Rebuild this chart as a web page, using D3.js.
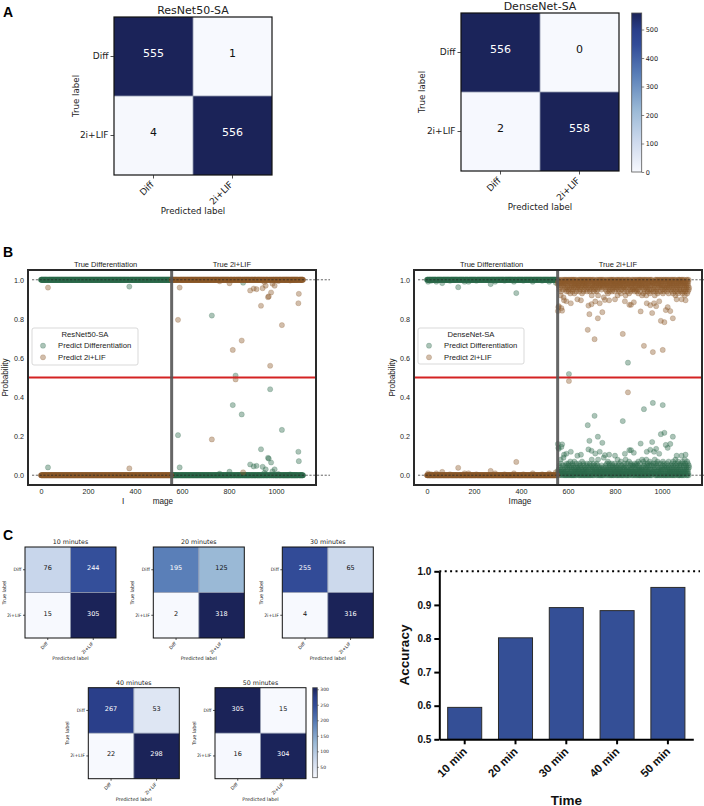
<!DOCTYPE html>
<html><head><meta charset="utf-8">
<script src="https://cdn.jsdelivr.net/npm/d3@7"></script>
<style>body{margin:0;background:#fff}</style>
</head><body>
<svg id="c" width="704" height="806"></svg>
<script>
// ================= DATA =================
const classLabels = ["Diff", "2i+LIF"];
const cmResNet = [[555, 1], [4, 556]];
const cmDenseNet = [[556, 0], [2, 558]];
const cbTicksA = [0, 100, 200, 300, 400, 500];

const nDiff = 556, nLIF = 560;           // images 0..555 true Diff, 556..1115 true 2i+LIF
const probTicks = [0, 0.2, 0.4, 0.6, 0.8, 1.0];
const imageTicks = [0, 200, 400, 600, 800, 1000];
const legendEntries = ["Predict Differentiation", "Predict 2i+LIF"];

// ResNet50-SA: P(Differentiation) for images off the 1.0 / 0.0 bands  [image, p]
const resnetOutliers = [[30,0.04],[376,0.965],
  [583,0.205],[590,0.04],[727,0.817],[760,0.008],[802,0.018],[816,0.359],[828,0.51],[854,0.311],
  [860,0.985],[890,0.055],[905,0.045],[917,0.048],[936,0.133],[943,0.043],[950,0.012],[956,0.03],
  [966,0.089],[969,0.085],[975,0.44],[979,0.065],[985,0.02],[994,0.03],[1010,0.006],[1025,0.232],
  [1060,0.004],[1095,0.12],[1097,0.072]];

// DenseNet-SA: P(Differentiation), true-2i+LIF band read in hundredths (one digit per image 556..1115)
const densenetLifBand = [
  "2410370152041826030412501937021402510364",
  "0231506120413072150240361025014702310426",
  "1024013520316024051230147021306251024013",
  "3051260214073102560134021850312041603125",
  "0142036102518024130620413025106230419021",
  "2013504126023170413260251034102605213041",
  "0316024105230418023501620314270152031604",
  "1402630518024103620512407130251603140252",
  "0251304162035120461302571024036105230418",
  "3024170352061302480153260412035170263015",
  "1043206125034810260315024702613051402368",
  "0214035271063024150382014603125074102315",
  "2051406230175204130628015302416073012504",
  "0316250413072601524038160253041702631054"];
// DenseNet-SA: P(Differentiation) for scattered images  [image, p]
const densenetOutliers = [[5,0.99],[18,0.995],[40,0.99],[65,0.983],[98,0.995],[133,0.962],[160,0.99],
  [177,0.99],[210,0.995],[271,0.978],[290,0.99],[330,0.995],[370,0.99],[380,0.932],[410,0.995],
  [450,0.99],[490,0.995],[520,0.99],[548,0.985],
  [557,0.16],[559,0.14],[561,0.135],[572,0.145],[575,0.158],[583,0.105],[593,0.11],[604,0.518],
  [612,0.12],[640,0.1],[655,0.105],[684,0.256],[687,0.132],[691,0.176],[700,0.125],[713,0.304],
  [716,0.111],[727,0.197],[735,0.12],[746,0.166],[757,0.103],[775,0.105],[800,0.1],[833,0.277],
  [842,0.11],[855,0.576],[861,0.128],[868,0.128],[880,0.115],[909,0.162],[923,0.338],[935,0.12],
  [950,0.13],[958,0.17],[961,0.37],[966,0.12],[975,0.135],[988,0.11],[995,0.21],[1003,0.359],
  [1010,0.217],[1016,0.155],[1024,0.14],[1035,0.16],[1046,0.197],[1062,0.1],[1083,0.1],[1100,0.105]];

const timeTitles = ["10 minutes", "20 minutes", "30 minutes", "40 minutes", "50 minutes"];
const timeMatrices = [
  [[76, 244], [15, 305]],
  [[195, 125], [2, 318]],
  [[255, 65], [4, 316]],
  [[267, 53], [22, 298]],
  [[305, 15], [16, 304]]];
const cbTicksC = [50, 100, 150, 200, 250, 300];

const timeLabels = ["10 min", "20 min", "30 min", "40 min", "50 min"];
const accuracy = [0.595, 0.802, 0.892, 0.883, 0.952];
const accTicks = [0.5, 0.6, 0.7, 0.8, 0.9, 1.0];

// ================= SETUP =================
const svg = d3.select("#c");
const defs = svg.append("defs");
const FDV = "'DejaVu Sans', sans-serif";
const FAR = "'Liberation Sans', Arial, sans-serif";
const GREEN = "#2d6a4a", BROWN = "#8b5a2b";

const cmapStops = [0, 0.11, 0.2, 0.39, 0.61, 0.8, 0.89, 1];
const cmap = d3.scaleLinear().domain(cmapStops)
  .range(["#f7f9fe","#dfe6f3","#cbd8ec","#9ab9d6","#5a7fb8","#324c98","#2a3f8a","#1b2358"])
  .interpolate(d3.interpolateRgb).clamp(true);

// panel letters
[["A", 3, 17], ["B", 3, 257], ["C", 3, 540]].forEach(([t, x, y]) =>
  svg.append("text").attr("x", x).attr("y", y).attr("font-family", FAR).attr("font-weight", "bold")
    .attr("font-size", 14).text(t));

// ================= CONFUSION MATRIX =================
function drawCM(o) {
  const g = svg.append("g").attr("transform", `translate(${o.x},${o.y})`);
  const sc = d3.scaleBand().domain(classLabels).range([0, o.size]);
  const flat = o.vals.flat();
  const vmin = d3.min(flat), vmax = d3.max(flat);
  const norm = d3.scaleLinear().domain([vmin, vmax]).range([0, 1]);
  const cells = [];
  o.vals.forEach((row, r) => row.forEach((v, c) => cells.push({ r: classLabels[r], c: classLabels[c], v })));
  const bw = sc.bandwidth();
  g.selectAll("rect.cell").data(cells).join("rect").attr("class", "cell")
    .attr("x", d => sc(d.c)).attr("y", d => sc(d.r)).attr("width", bw).attr("height", bw)
    .attr("fill", d => cmap(norm(d.v)));
  g.append("line").attr("x1", sc(classLabels[1])).attr("x2", sc(classLabels[1])).attr("y1", 0).attr("y2", o.size)
    .attr("stroke", "#8f98ad").attr("stroke-width", 0.8);
  g.append("line").attr("y1", sc(classLabels[1])).attr("y2", sc(classLabels[1])).attr("x1", 0).attr("x2", o.size)
    .attr("stroke", "#8f98ad").attr("stroke-width", 0.8);
  g.selectAll("text.val").data(cells).join("text").attr("class", "val")
    .attr("x", d => sc(d.c) + bw / 2).attr("y", d => sc(d.r) + bw / 2 + 0.5)
    .attr("text-anchor", "middle").attr("font-family", FDV).attr("font-size", o.fsCell)
    .attr("fill", d => d.v > vmax / 2 ? "#ffffff" : "#111111").text(d => d.v);
  g.append("rect").attr("width", o.size).attr("height", o.size).attr("fill", "none")
    .attr("stroke", "#111").attr("stroke-width", o.frame);
  const ya = g.append("g").call(d3.axisLeft(sc).tickSize(o.tick).tickPadding(o.pad));
  ya.select(".domain").remove();
  ya.selectAll("line").attr("stroke", "#222").attr("stroke-width", 0.8);
  ya.selectAll("text").attr("font-size", o.fsTick).attr("font-family", FDV).attr("fill", "#222");
  const xa = g.append("g").attr("transform", `translate(0,${o.size})`)
    .call(d3.axisBottom(sc).tickSize(o.tick).tickPadding(o.pad));
  xa.select(".domain").remove();
  xa.selectAll("line").attr("stroke", "#222").attr("stroke-width", 0.8);
  xa.selectAll("text").attr("font-size", o.fsTick).attr("font-family", FDV).attr("fill", "#222")
    .attr("x", 0).attr("y", 0).attr("dy", 0).attr("text-anchor", "end")
    .attr("transform", `translate(${o.xlOff[0]},${o.xlOff[1]}) rotate(-45)`);
  g.append("text").attr("x", o.size / 2).attr("y", -o.titleGap).attr("text-anchor", "middle")
    .attr("font-family", FDV).attr("font-size", o.fsTitle).attr("fill", "#222").text(o.title);
  g.append("text").attr("transform", `translate(${o.tlx - o.x},${o.size / 2}) rotate(-90)`)
    .attr("text-anchor", "middle").attr("font-family", FDV).attr("font-size", o.fsLabel).attr("fill", "#222")
    .text("True label");
  g.append("text").attr("x", o.size / 2).attr("y", o.ply - o.y).attr("text-anchor", "middle")
    .attr("font-family", FDV).attr("font-size", o.fsLabel).attr("fill", "#222").text("Predicted label");
}

let gradCount = 0;
function drawColorbar(x, y, w, h, vmin, vmax, ticks, fs, tk) {
  const id = "cbg" + (gradCount++);
  const lg = defs.append("linearGradient").attr("id", id).attr("x1", 0).attr("y1", 1).attr("x2", 0).attr("y2", 0);
  cmapStops.forEach(t => lg.append("stop").attr("offset", t).attr("stop-color", cmap(t)));
  const s = d3.scaleLinear().domain([vmin, vmax]).range([y + h, y]);
  svg.append("rect").attr("x", x).attr("y", y).attr("width", w).attr("height", h)
    .attr("fill", `url(#${id})`).attr("stroke", "#555").attr("stroke-width", 0.8);
  const a = svg.append("g").attr("transform", `translate(${x + w},0)`)
    .call(d3.axisRight(s).tickValues(ticks).tickSize(tk).tickPadding(1.5).tickSizeOuter(0));
  a.select(".domain").remove();
  a.selectAll("line").attr("stroke", "#333").attr("stroke-width", 0.6);
  a.selectAll("text").attr("font-family", FDV).attr("font-size", fs).attr("fill", "#222");
}

const optA = { size: 158, fsTitle: 11, fsCell: 11, fsTick: 9, fsLabel: 8.7, tick: 3.5, pad: 2, frame: 1.2, titleGap: 3, xlOff: [1, 10] };
drawCM(Object.assign({}, optA, { x: 114, y: 17, vals: cmResNet, title: "ResNet50-SA", tlx: 79, ply: 214 }));
drawCM(Object.assign({}, optA, { x: 461, y: 13, vals: cmDenseNet, title: "DenseNet-SA", tlx: 425, ply: 210 }));
drawColorbar(631.7, 13, 10, 159, 0, 558, cbTicksA, 6.5, 2.5);

const optC = { size: 91, fsTitle: 6.3, fsCell: 6.5, fsTick: 4.6, fsLabel: 4.9, tick: 2, pad: 1.5, frame: 1, titleGap: 3, xlOff: [0.5, 6] };
const posC = [[25, 547], [153.3, 547], [282.3, 547], [88.3, 687.7], [215, 687.7]];
timeMatrices.forEach((m, k) => {
  const [x, y] = posC[k];
  drawCM(Object.assign({}, optC, { x, y, vals: m, title: timeTitles[k], tlx: x - 19.5, ply: y + 113 }));
});
drawColorbar(312.7, 687.7, 4.6, 90, 15, 305, cbTicksC, 4.5, 1.5);

// ================= SCATTER (B) =================
function buildResnet() {
  const p = [];
  for (let i = 0; i < nDiff + nLIF; i++) p.push(i < nDiff ? 1 : 0);
  resnetOutliers.forEach(([i, v]) => p[i] = v);
  return p;
}
function buildDensenet() {
  const band = densenetLifBand.join("");
  const p = [];
  for (let i = 0; i < nDiff + nLIF; i++) p.push(i < nDiff ? 1 : (+band.charAt(i - nDiff) || 0) / 100);
  densenetOutliers.forEach(([i, v]) => p[i] = v);
  return p;
}

function drawScatter(o) {
  const x = d3.scaleLinear().domain([-55, 1170]).range([o.x0, o.x1]);
  const y = d3.scaleLinear().domain([-0.05, 1.05]).range([485, 270]);
  const clipId = "clip" + o.x0;
  defs.append("clipPath").attr("id", clipId).append("rect")
    .attr("x", o.x0).attr("y", 270).attr("width", o.x1 - o.x0).attr("height", 215);
  const g = svg.append("g");
  const pts = o.pDiff.map((p, i) => ({ i, p }));
  const gp = g.append("g").attr("clip-path", `url(#${clipId})`);
  gp.selectAll("circle.d").data(pts).join("circle").attr("class", "d")
    .attr("cx", d => x(d.i)).attr("cy", d => y(d.p)).attr("r", 2.6)
    .attr("fill", GREEN).attr("fill-opacity", 0.4).attr("stroke", GREEN).attr("stroke-opacity", 0.45).attr("stroke-width", 0.5);
  gp.selectAll("circle.l").data(pts).join("circle").attr("class", "l")
    .attr("cx", d => x(d.i)).attr("cy", d => y(1 - d.p)).attr("r", 2.6)
    .attr("fill", BROWN).attr("fill-opacity", 0.4).attr("stroke", BROWN).attr("stroke-opacity", 0.45).attr("stroke-width", 0.5);
  [0, 1].forEach(v => g.append("line").attr("x1", o.x0 + 4).attr("x2", o.x1 + 14).attr("y1", y(v)).attr("y2", y(v))
    .attr("stroke", "#222").attr("stroke-width", 0.7).attr("stroke-dasharray", "2.2,1.6"));
  g.append("line").attr("x1", o.x0).attr("x2", o.x1).attr("y1", y(0.5)).attr("y2", y(0.5))
    .attr("stroke", "#d42323").attr("stroke-width", 2);
  g.append("line").attr("x1", x(nDiff)).attr("x2", x(nDiff)).attr("y1", 270).attr("y2", 485)
    .attr("stroke", "#555").attr("stroke-opacity", 0.9).attr("stroke-width", 3);
  g.append("rect").attr("x", o.x0).attr("y", 270).attr("width", o.x1 - o.x0).attr("height", 215)
    .attr("fill", "none").attr("stroke", "#2a2a2a").attr("stroke-width", 2);
  const ya = g.append("g").attr("transform", `translate(${o.x0},0)`)
    .call(d3.axisLeft(y).tickValues(probTicks).tickFormat(d3.format(".1f")).tickSize(0).tickPadding(4));
  ya.select(".domain").remove();
  ya.selectAll("text").attr("font-family", FAR).attr("font-size", 7.2).attr("fill", "#262626");
  const xa = g.append("g").attr("transform", "translate(0,485)")
    .call(d3.axisBottom(x).tickValues(imageTicks).tickFormat(d3.format("d")).tickSize(0).tickPadding(4));
  xa.select(".domain").remove();
  xa.selectAll("text").attr("font-family", FAR).attr("font-size", 7.2).attr("fill", "#262626");
  g.append("text").attr("x", x(275)).attr("y", 267).attr("text-anchor", "middle").attr("font-family", FAR)
    .attr("font-size", 7.5).attr("fill", "#222").text("True Differentiation");
  g.append("text").attr("x", x(812)).attr("y", 267).attr("text-anchor", "middle").attr("font-family", FAR)
    .attr("font-size", 7.5).attr("fill", "#222").text("True 2i+LIF");
  g.append("text").attr("transform", `translate(${o.ylx},${y(0.5)}) rotate(-90)`).attr("text-anchor", "middle")
    .attr("font-family", FAR).attr("font-size", 8.2).attr("fill", "#222").text("Probability");
  if (o.splitLabel) {
    const t = g.append("text").attr("x", o.xlx).attr("y", 504).attr("font-family", FAR).attr("font-size", 8.2).attr("fill", "#222");
    t.append("tspan").text("I");
    t.append("tspan").attr("dx", 28.4).text("mage");
  } else {
    g.append("text").attr("x", o.xlx).attr("y", 504).attr("text-anchor", "middle").attr("font-family", FAR)
      .attr("font-size", 8.2).attr("fill", "#222").text("Image");
  }
  // legend
  const L = o.legend;
  const lg = g.append("g").attr("transform", `translate(${L.x},${L.y})`);
  lg.append("rect").attr("width", L.w).attr("height", L.h).attr("rx", 2).attr("fill", "#fff").attr("fill-opacity", 0.85)
    .attr("stroke", "#cfcfcf").attr("stroke-width", 0.8);
  lg.append("text").attr("x", L.w / 2).attr("y", 9).attr("text-anchor", "middle").attr("font-family", FAR)
    .attr("font-size", 7.7).attr("fill", "#222").text(o.name);
  legendEntries.forEach((t, k) => {
    const cy = 17.7 + k * 11.6;
    lg.append("circle").attr("cx", 11).attr("cy", cy).attr("r", 2.6)
      .attr("fill", k ? BROWN : GREEN).attr("fill-opacity", 0.4).attr("stroke", k ? BROWN : GREEN).attr("stroke-opacity", 0.45).attr("stroke-width", 0.5);
    lg.append("text").attr("x", 26).attr("y", cy + 2.7).attr("font-family", FAR).attr("font-size", 7.7)
      .attr("fill", "#222").text(t);
  });
}

drawScatter({ x0: 28, x1: 316, pDiff: buildResnet(), name: "ResNet50-SA", ylx: 8, xlx: 122, splitLabel: true,
  legend: { x: 32, y: 328, w: 106, h: 37 } });
drawScatter({ x0: 414, x1: 702, pDiff: buildDensenet(), name: "DenseNet-SA", ylx: 395, xlx: 520, splitLabel: false,
  legend: { x: 418, y: 328, w: 106, h: 36 } });

// ================= BAR CHART =================
const xb = d3.scaleBand().domain(timeLabels).range([439.3, 693.3]).paddingInner(0.33).paddingOuter(0.165);
const yb = d3.scaleLinear().domain([0.5, 1.0]).range([739.3, 571.3]);
const gb = svg.append("g");
gb.append("line").attr("x1", 439.3).attr("x2", 700).attr("y1", yb(1.0)).attr("y2", yb(1.0))
  .attr("stroke", "#000").attr("stroke-width", 2).attr("stroke-dasharray", "2,3.4");
gb.selectAll("rect.bar").data(accuracy).join("rect").attr("class", "bar")
  .attr("x", (d, i) => xb(timeLabels[i])).attr("y", d => yb(d))
  .attr("width", xb.bandwidth()).attr("height", d => yb(0.5) - yb(d))
  .attr("fill", "#344f96").attr("stroke", "#2b2b2b").attr("stroke-width", 1);
const yax = gb.append("g").attr("transform", "translate(439.3,0)")
  .call(d3.axisLeft(yb).tickValues(accTicks).tickFormat(d3.format(".1f")).tickSize(5).tickSizeOuter(0).tickPadding(3));
yax.select(".domain").attr("stroke", "#000").attr("stroke-width", 2);
yax.selectAll("line").attr("stroke", "#000").attr("stroke-width", 2);
yax.selectAll("text").attr("font-family", FAR).attr("font-weight", "bold").attr("font-size", 10).attr("fill", "#111");
const xax = gb.append("g").attr("transform", "translate(0,739.3)")
  .call(d3.axisBottom(xb).tickSize(5).tickSizeOuter(0));
xax.select(".domain").attr("stroke", "#000").attr("stroke-width", 2);
xax.selectAll("line").attr("stroke", "#000").attr("stroke-width", 2);
xax.selectAll("text").attr("font-family", FAR).attr("font-weight", "bold").attr("font-size", 11.5).attr("fill", "#111")
  .attr("x", 0).attr("y", 0).attr("dy", 0).attr("text-anchor", "end")
  .attr("transform", "translate(3,13) rotate(-45)");
gb.append("text").attr("transform", "translate(409,655) rotate(-90)").attr("text-anchor", "middle")
  .attr("font-family", FAR).attr("font-weight", "bold").attr("font-size", 13.5).attr("fill", "#111").text("Accuracy");
gb.append("text").attr("x", 566.3).attr("y", 804.5).attr("text-anchor", "middle")
  .attr("font-family", FAR).attr("font-weight", "bold").attr("font-size", 13.5).attr("fill", "#111").text("Time");
</script>
</body></html>
